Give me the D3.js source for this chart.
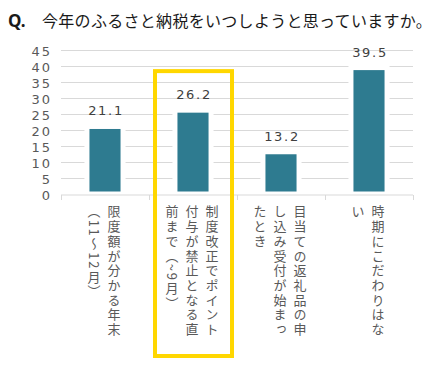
<!DOCTYPE html>
<html><head><meta charset="utf-8">
<script src="https://cdn.jsdelivr.net/npm/d3@7/dist/d3.min.js"></script>
<style>body{margin:0;background:#fff}svg{display:block}</style>
</head><body>
<svg id="c" width="444" height="372"></svg>
<script>
const title = "今年のふるさと納税をいつしようと思っていますか。";
const categories = ["限度額が分かる年末（11～12月）", "制度改正でポイント付与が禁止となる直前まで（~9月）", "目当ての返礼品の申し込み受付が始まったとき", "時期にこだわりはない"];
const categoryLines = [
  ["限度額が分かる年末", "（11～12月）"],
  ["制度改正でポイント", "付与が禁止となる直", "前まで（~9月）"],
  ["目当ての返礼品の申", "し込み受付が始まっ", "たとき"],
  ["時期にこだわりはな", "い"]
];
const values = [21.1, 26.2, 13.2, 39.5];
const yTicks = [0, 5, 10, 15, 20, 25, 30, 35, 40, 45];
const highlightIndex = 1;

const svg = d3.select("#c");
const plotLeft = 61, plotRight = 413, plotTop = 50, plotBottom = 194;
const num = "'DejaVu Sans', sans-serif";
const cjk = "'Noto Sans CJK JP', sans-serif";

const x = d3.scaleBand().domain(d3.range(categories.length)).range([plotLeft, plotRight]).padding(0);
const y = d3.scaleLinear().domain([0, 45]).range([plotBottom, plotTop]);
const barW = x.bandwidth() * 0.41;

// title
const t = svg.append("text").attr("x", 8).attr("y", 27).attr("fill", "#1a1a1a")
  .style("font-family", cjk).style("font-size", "16px");
t.append("tspan").attr("font-weight", "bold").style("font-family", "'Noto Sans', sans-serif").style("font-size", "17px").text("Q.");
t.append("tspan").attr("x", 42).style("letter-spacing", "0.3px").text(title);

// gridlines
svg.append("g").selectAll("line").data(yTicks.filter(d => d > 0)).join("line")
  .attr("x1", plotLeft).attr("x2", plotRight)
  .attr("y1", d => y(d) + 0.5).attr("y2", d => y(d) + 0.5)
  .attr("stroke", "#d9d9d9").attr("stroke-width", 1);

// y labels
svg.append("g").selectAll("text").data(yTicks).join("text")
  .attr("x", 52).attr("y", d => y(d) + 5.5)
  .attr("text-anchor", "end").attr("fill", "#595959")
  .style("font-family", num).style("font-size", "13px").style("letter-spacing", "2px")
  .text(d => d);

// bars
svg.append("g").selectAll("rect").data(values).join("rect")
  .attr("x", (d, i) => x(i) + (x.bandwidth() - barW) / 2)
  .attr("width", barW)
  .attr("y", d => y(d))
  .attr("height", d => y(0) - y(d))
  .attr("fill", "#2e7b90").attr("stroke", "#fff").attr("stroke-width", 5);

// x axis line and ticks
svg.append("line").attr("x1", plotLeft).attr("x2", plotRight)
  .attr("y1", plotBottom + 1).attr("y2", plotBottom + 1).attr("stroke", "#d9d9d9");
svg.append("g").selectAll("line").data(d3.range(categories.length + 1)).join("line")
  .attr("x1", i => (i < categories.length ? x(i) : plotRight) + 0.5)
  .attr("x2", i => (i < categories.length ? x(i) : plotRight) + 0.5)
  .attr("y1", plotBottom + 1).attr("y2", plotBottom + 6).attr("stroke", "#d9d9d9");

// value labels
svg.append("g").selectAll("text").data(values).join("text")
  .attr("x", (d, i) => x(i) + x.bandwidth() / 2 + 1)
  .attr("y", d => y(d) - 11)
  .attr("text-anchor", "middle").attr("fill", "#404040")
  .style("font-family", num).style("font-size", "13px").style("letter-spacing", "1.7px")
  .text(d => d.toFixed(1));

// category labels (vertical)
const colGap = 20;
categoryLines.forEach((lines, i) => {
  const cx = x(i) + x.bandwidth() / 2 - 1;
  lines.forEach((ln, j) => {
    svg.append("text")
      .attr("x", cx + (lines.length - 1) / 2 * colGap - j * colGap)
      .attr("y", 205)
      .attr("fill", "#595959")
      .style("writing-mode", "vertical-rl")
      .style("font-family", cjk).style("font-size", "13px").style("letter-spacing", "1.7px")
      .text(ln);
  });
});

// highlight box
const hx = x(highlightIndex);
svg.append("rect")
  .attr("x", hx + 6).attr("width", x.bandwidth() - 11)
  .attr("y", y(38.4)).attr("height", 358 - 2 - y(38.4))
  .attr("fill", "none").attr("stroke", "#ffd700").attr("stroke-width", 4);
</script>
</body></html>
